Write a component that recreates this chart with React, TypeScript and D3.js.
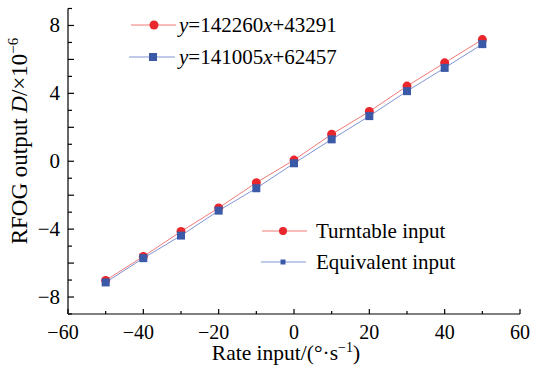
import React from "react";
import * as d3 from "d3";

const rates = [-50, -40, -30, -20, -10, 0, 10, 20, 30, 40, 50];
const turntable = [-7.02, -5.61, -4.14, -2.75, -1.26, 0.07, 1.59, 2.93, 4.43, 5.8, 7.17];
const equivalent = [-7.14, -5.71, -4.38, -2.91, -1.59, -0.12, 1.29, 2.66, 4.13, 5.5, 6.9];
const xTickLabels = [-60, -40, -20, 0, 20, 40, 60];
const yTickLabels = [-8, -4, 0, 4, 8];
const fitRed = "142260";
const fitRedB = "43291";
const fitBlue = "141005";
const fitBlueB = "62457";
const seriesNames = ["Turntable input", "Equivalent input"];

const W = 543;
const H = 366;
const RED = "#e8262b";
const RED_LINE = "#f27a78";
const BLUE = "#3a5aa8";
const BLUE_LINE = "#8294d4";
const FONT = "'Liberation Serif', 'Times New Roman', serif";

export default function App() {
  const x = d3.scaleLinear().domain([-60, 60]).range([68, 520]);
  const y = d3.scaleLinear().domain([-9, 9]).range([314, 8.5]);
  const line = d3
    .line<[number, number]>()
    .x((d) => x(d[0]))
    .y((d) => y(d[1]));
  const redPts = rates.map((r, i) => [r, turntable[i]] as [number, number]);
  const bluePts = rates.map((r, i) => [r, equivalent[i]] as [number, number]);

  const xMajor = d3.range(-60, 61, 20);
  const xMinor = d3.range(-50, 51, 20);
  const yMajor = d3.range(-8, 9, 2);
  const yMinor = d3.range(-9, 10, 2);

  const x0 = x.range()[0];
  const yb = y.range()[0];
  const fmt = (t: number) => (t < 0 ? "\u2212" + Math.abs(t) : String(t));

  return (
    <svg
      width={W}
      height={H}
      style={{ position: "absolute", left: 0, top: 0, background: "#fff" }}
      fontFamily={FONT}
    >
      {/* axes */}
      <line x1={x0} x2={x0} y1={y.range()[1]} y2={yb} stroke="#000" strokeWidth={1.2} />
      <line x1={x0} x2={x.range()[1]} y1={yb} y2={yb} stroke="#000" strokeWidth={1.2} />
      {xMajor.map((t) => (
        <line key={"xM" + t} x1={x(t)} x2={x(t)} y1={yb} y2={yb - 5} stroke="#000" strokeWidth={1.2} />
      ))}
      {xMinor.map((t) => (
        <line key={"xm" + t} x1={x(t)} x2={x(t)} y1={yb} y2={yb - 3} stroke="#000" strokeWidth={1.2} />
      ))}
      {yMajor.map((t) => (
        <line key={"yM" + t} x1={x0} x2={x0 + 6} y1={y(t)} y2={y(t)} stroke="#000" strokeWidth={1.2} />
      ))}
      {yMinor.map((t) => (
        <line key={"ym" + t} x1={x0} x2={x0 + 4} y1={y(t)} y2={y(t)} stroke="#000" strokeWidth={1.2} />
      ))}
      {xTickLabels.map((t) => (
        <text key={"xl" + t} x={x(t) - (t < 0 ? 5 : 0)} y={338.5} textAnchor="middle" fontSize={20}>
          {fmt(t)}
        </text>
      ))}
      {yTickLabels.map((t) => (
        <text key={"yl" + t} x={60} y={y(t) + 7} textAnchor="end" fontSize={21}>
          {fmt(t)}
        </text>
      ))}
      <text x={286} y={360} textAnchor="middle" fontSize={21.5}>
        Rate input/(°·s
        <tspan dy={-8} fontSize={14}>
          −1
        </tspan>
        <tspan dy={8}>)</tspan>
      </text>
      <text transform={`translate(27,141) rotate(-90)`} textAnchor="middle" fontSize={23}>
        RFOG output <tspan fontStyle="italic">D</tspan>/×10
        <tspan dy={-9} fontSize={15}>
          −6
        </tspan>
      </text>

      {/* data lines */}
      <path d={line(redPts) || ""} fill="none" stroke={RED_LINE} strokeWidth={1} />
      <path d={line(bluePts) || ""} fill="none" stroke={BLUE_LINE} strokeWidth={1} />
      {redPts.map((p, i) => (
        <circle key={"rc" + i} cx={x(p[0])} cy={y(p[1])} r={4.5} fill={RED} />
      ))}
      {bluePts.map((p, i) => (
        <rect key={"bs" + i} x={x(p[0]) - 4} y={y(p[1]) - 4} width={8} height={8} fill={BLUE} />
      ))}

      {/* top legend */}
      <line x1={131} x2={176} y1={25} y2={25} stroke={RED_LINE} strokeWidth={1} />
      <circle cx={154} cy={25} r={4.5} fill={RED} />
      <text x={179} y={32} fontSize={21}>
        <tspan fontStyle="italic">y</tspan>={fitRed}
        <tspan fontStyle="italic">x</tspan>+{fitRedB}
      </text>
      <line x1={129} x2={175} y1={57} y2={57} stroke={BLUE_LINE} strokeWidth={1} />
      <rect x={149} y={53} width={8} height={8} fill={BLUE} />
      <text x={179} y={64} fontSize={21}>
        <tspan fontStyle="italic">y</tspan>={fitBlue}
        <tspan fontStyle="italic">x</tspan>+{fitBlueB}
      </text>

      {/* bottom legend */}
      <line x1={262} x2={307} y1={231} y2={231} stroke={RED_LINE} strokeWidth={1} />
      <circle cx={283} cy={231} r={4} fill={RED} />
      <text x={316} y={238} fontSize={21}>
        {seriesNames[0]}
      </text>
      <line x1={261} x2={306} y1={262} y2={262} stroke={BLUE_LINE} strokeWidth={1} />
      <rect x={280.5} y={259.5} width={5} height={5} fill={BLUE} />
      <text x={316} y={269} fontSize={21}>
        {seriesNames[1]}
      </text>
    </svg>
  );
}
